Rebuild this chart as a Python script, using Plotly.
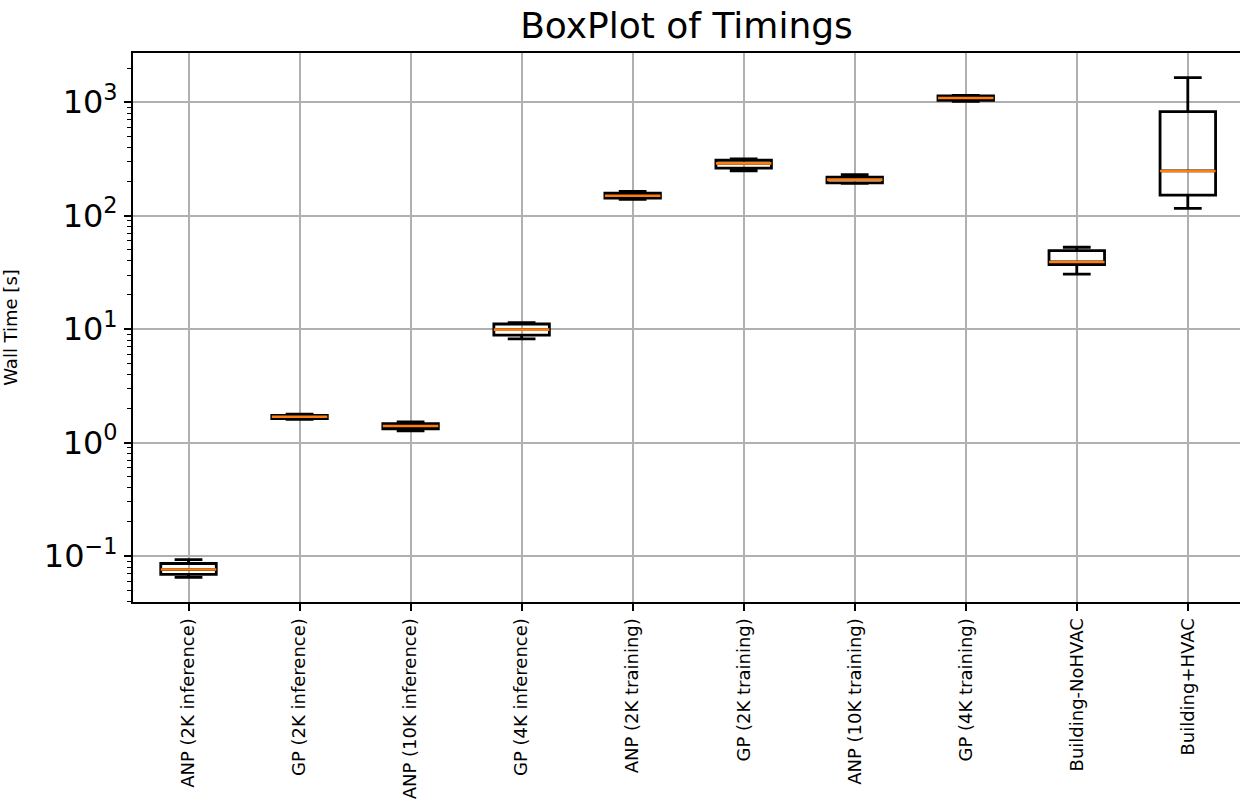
import plotly.graph_objects as go

categories = ["ANP (2K inference)", "GP (2K inference)", "ANP (10K inference)", "GP (4K inference)",
              "ANP (2K training)", "GP (2K training)", "ANP (10K training)", "GP (4K training)",
              "Building-NoHVAC", "Building+HVAC"]
lower_whisker = [0.065, 1.60, 1.27, 8.2, 139, 248, 193, 1020, 30.6, 116]
q1_values = [0.069, 1.63, 1.32, 8.85, 143, 263, 195, 1040, 37.0, 152]
median_values = [0.076, 1.69, 1.40, 9.9, 150, 289, 208, 1090, 39.1, 248]
q3_values = [0.086, 1.74, 1.47, 11.1, 158, 308, 219, 1140, 49.2, 826]
upper_whisker = [0.093, 1.78, 1.52, 11.4, 164, 316, 230, 1150, 52.7, 1650]

y_tick_vals = [0.1, 1, 10, 100, 1000]
y_tick_text = ["10<sup>\u22121</sup>", "10<sup>0</sup>", "10<sup>1</sup>", "10<sup>2</sup>", "10<sup>3</sup>"]

minor_vals = [k * 10.0 ** d for d in range(-2, 4) for k in range(2, 10)]

fig = go.Figure()
fig.add_trace(go.Box(
    x=categories, q1=q1_values, median=median_values, q3=q3_values,
    lowerfence=lower_whisker, upperfence=upper_whisker,
    line=dict(color="black", width=2.8), fillcolor="rgba(0,0,0,0)",
    whiskerwidth=0.5, width=0.5, boxpoints=False, showlegend=False,
))
# median lines (orange) drawn as flat boxes
fig.add_trace(go.Box(
    x=categories, q1=median_values, median=median_values, q3=median_values,
    lowerfence=median_values, upperfence=median_values,
    line=dict(color="#ff7f0e", width=2.6), fillcolor="rgba(0,0,0,0)",
    whiskerwidth=0, width=0.5, boxpoints=False, showlegend=False,
))

fig.update_layout(
    width=1240, height=807,
    margin=dict(l=133, r=0, t=53, b=205, autoexpand=False),
    paper_bgcolor="white", plot_bgcolor="white",
    boxmode="overlay",
    font=dict(family="DejaVu Sans", color="black"),
    title=dict(text="BoxPlot of Timings", xref="paper", x=0.5, xanchor="center",
               y=0.969, yanchor="middle",
               font=dict(size=36, family="DejaVu Sans", color="black")),
)
fig.update_xaxes(
    type="category", range=[-0.5, 9.47], automargin=False,
    showline=True, linecolor="black", linewidth=2, mirror=True,
    ticks="outside", ticklen=7, tickwidth=2, tickcolor="black",
    tickangle=-90, tickfont=dict(size=18, family="DejaVu Sans", color="black"),
    showgrid=True, gridcolor="#b0b0b0", gridwidth=2, zeroline=False,
)
fig.update_yaxes(
    type="log", range=[-1.405, 3.434], automargin=False,
    showline=True, linecolor="black", linewidth=2, mirror=False,
    ticks="outside", ticklen=7, tickwidth=2, tickcolor="black",
    tickvals=y_tick_vals, ticktext=y_tick_text,
    tickfont=dict(size=32, family="DejaVu Sans", color="black"),
    showgrid=True, gridcolor="#b0b0b0", gridwidth=2, zeroline=False,
    minor=dict(tickvals=minor_vals, ticks="outside", ticklen=4, tickwidth=1.2,
               tickcolor="black", showgrid=False),
    title=dict(text="Wall Time [s]", font=dict(size=18, family="DejaVu Sans", color="black"), standoff=82),
)

# remove the default page margin so the figure sits at the top-left corner
fig.write_html("out.html",
               config={"displayModeBar": False},
               post_script="document.body.style.margin='0';document.body.style.overflow='hidden';")
